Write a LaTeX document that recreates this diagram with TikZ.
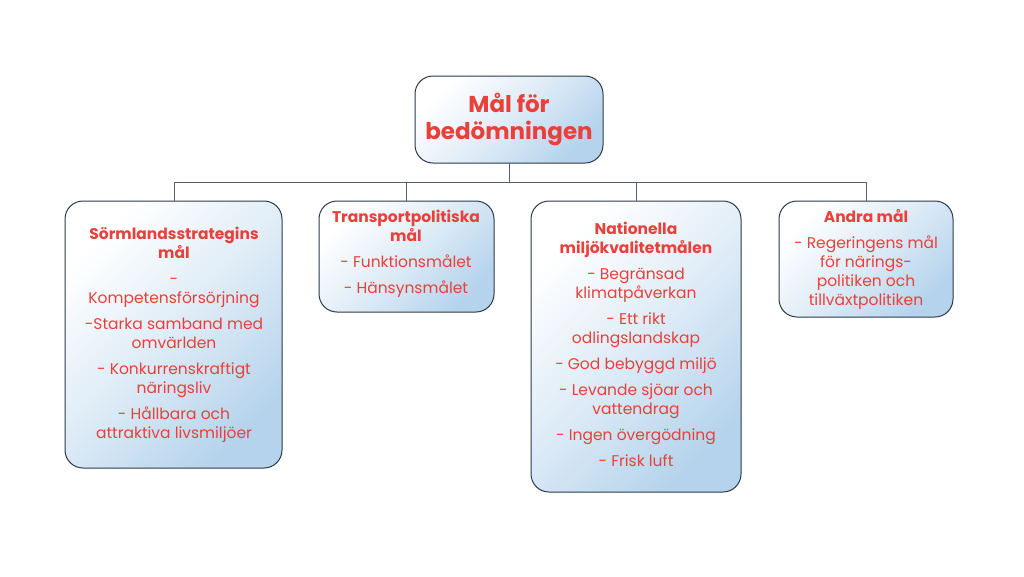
\documentclass[tikz,border=0pt]{standalone}
\usepackage{fontspec}
\setmainfont{Poppins}
\usetikzlibrary{positioning}
\definecolor{txt}{HTML}{E8403A}
\definecolor{edge}{HTML}{2B3A4A}
\definecolor{lb}{HTML}{B5D3EC}
\tikzset{
  box/.style={draw=edge,line width=1pt,rounded corners=18pt,top color=white,bottom color=lb,middle color=white!55!lb,shading angle=45},
  lbl/.style={text=txt,align=center,font=\fontsize{15.5}{19}\selectfont},
  conn/.style={draw=edge!80,line width=0.8pt}
}
\begin{document}
\begin{tikzpicture}[x=1pt,y=-1pt]
\useasboundingbox (0,0) rectangle (1024,576);
\fill[white] (0,0) rectangle (1024,576);
\path[box] (415,76) rectangle (603,163);
\path[box] (65,201) rectangle (282,468);
\path[box] (319,201) rectangle (494,312);
\path[box] (531,201) rectangle (741,492);
\path[box] (779,201) rectangle (953,317);
\node[lbl,font=\bfseries\fontsize{23}{27}\selectfont] (top) at (509,119) {Mål för\\bedömningen};
\coordinate (tb) at (509,163);
\coordinate (j) at (509,182);
\coordinate (b1) at (174,201);
\coordinate (b2) at (406,201);
\coordinate (b3) at (636,201);
\coordinate (b4) at (866,201);
\draw[conn] (tb) -- (j);
\draw[conn] (b1|-j) -- (b4|-j);
\foreach \b in {b1,b2,b3,b4} \draw[conn] (\b|-j) -- (\b);
\node[lbl,anchor=north] (t1) at (174,224) {\textbf{Sörmlandsstrategins}\\\textbf{mål}\\[7pt] -\\Kompetensförsörjning\\[7pt] -Starka samband med\\omvärlden\\[7pt] - Konkurrenskraftigt\\näringsliv\\[7pt] - Hållbara och\\attraktiva livsmiljöer};
\node[lbl,anchor=north] (t2) at (406,207) {\textbf{Transportpolitiska}\\\textbf{mål}\\[7pt] - Funktionsmålet\\[7pt] - Hänsynsmålet};
\node[lbl,anchor=north] (t3) at (636,219) {\textbf{Nationella}\\\textbf{miljökvalitetmålen}\\[7pt] - Begränsad\\klimatpåverkan\\[7pt] - Ett rikt\\odlingslandskap\\[7pt] - God bebyggd miljö\\[7pt] - Levande sjöar och\\vattendrag\\[7pt] - Ingen övergödning\\[7pt] - Frisk luft};
\node[lbl,anchor=north] (t4) at (866,206) {\textbf{Andra mål}\\[7pt] - Regeringens mål\\för närings-\\politiken och\\tillväxtpolitiken};
\end{tikzpicture}
\end{document}
